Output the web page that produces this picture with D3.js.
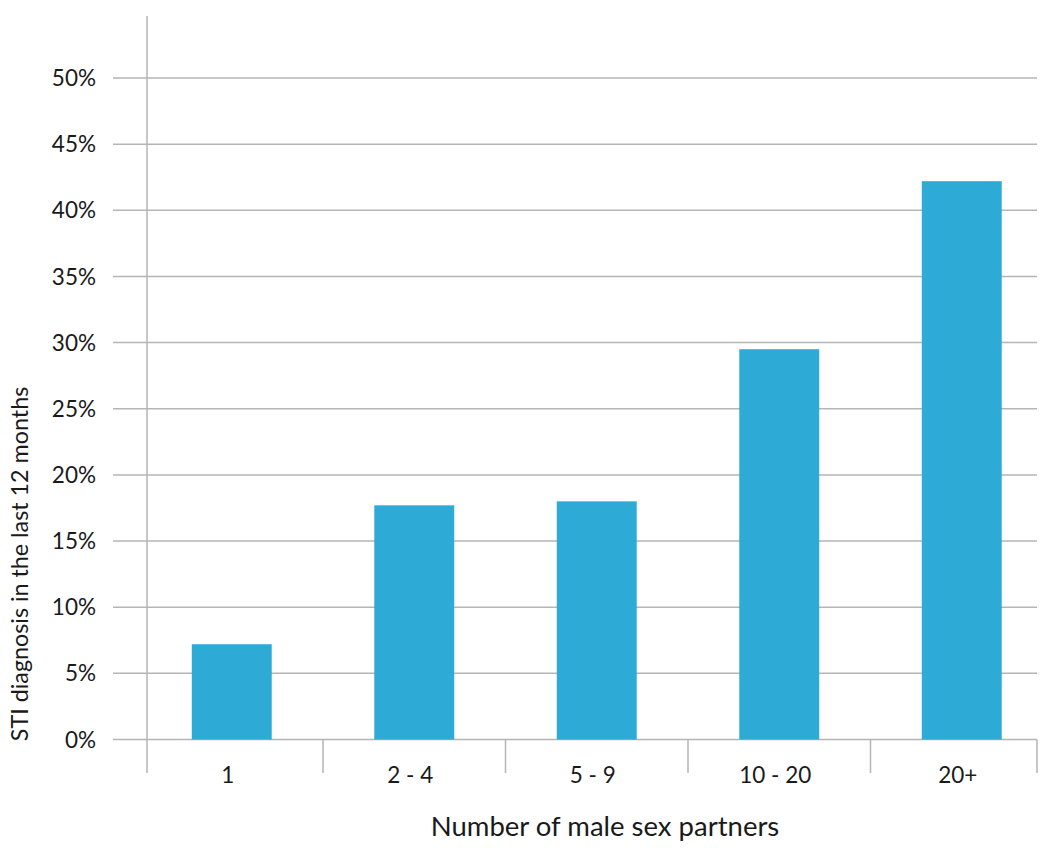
<!DOCTYPE html>
<html><head><meta charset="utf-8">
<script src="https://cdn.jsdelivr.net/npm/d3@7"></script>
<style>body{margin:0;background:#fff}text{font-family:Lato,sans-serif;fill:#1a1a1a}</style>
</head><body><svg id="c" width="1048" height="848"></svg>
<script>
const categories = ["1", "2 - 4", "5 - 9", "10 - 20", "20+"];
const values = [7.2, 17.7, 18.0, 29.5, 42.2];
const yTicks = [0, 5, 10, 15, 20, 25, 30, 35, 40, 45, 50];
const xTitle = "Number of male sex partners";
const yTitle = "STI diagnosis in the last 12 months";

const svg = d3.select("#c");
const y = d3.scaleLinear().domain([0, 50]).range([739.5, 78]);
const x = d3.scaleBand().domain(categories).range([140.5, 1053]).paddingInner(0).paddingOuter(0);
const axisX = 147, gridL = 113, gridR = 1037, yTop = 16, yBot = 773;
const barW = x.bandwidth() * 0.438;
const gridColor = "#b5b5b5";

svg.append("g").selectAll("line").data(yTicks).join("line")
  .attr("x1", gridL).attr("x2", gridR)
  .attr("y1", d => y(d)).attr("y2", d => y(d))
  .attr("stroke", gridColor).attr("stroke-width", 1.5);

svg.append("g").selectAll("text").data(yTicks).join("text")
  .attr("x", 96).attr("y", d => y(d)).attr("dy", "0.36em")
  .attr("text-anchor", "end").attr("font-size", 22.5).text(d => d + "%");

svg.append("g").selectAll("rect").data(values).join("rect")
  .attr("x", (d, i) => x(categories[i]) + x.bandwidth() / 2 - barW / 2)
  .attr("width", barW)
  .attr("y", d => y(d)).attr("height", d => y(0) - y(d))
  .attr("fill", "#2eaad7");

svg.append("line").attr("x1", axisX).attr("x2", axisX).attr("y1", yTop).attr("y2", yBot)
  .attr("stroke", gridColor).attr("stroke-width", 1.5);
const bounds = categories.slice(1).map(c => x(c)).concat([gridR]);
svg.append("g").selectAll("line").data(bounds).join("line")
  .attr("x1", d => d).attr("x2", d => d).attr("y1", y(0)).attr("y2", yBot)
  .attr("stroke", gridColor).attr("stroke-width", 1.5);

svg.append("g").selectAll("text").data(categories).join("text")
  .attr("x", d => x(d) + x.bandwidth() / 2 - 4).attr("y", 783)
  .attr("text-anchor", "middle").attr("font-size", 22.5).text(d => d);

svg.append("text").attr("x", 605).attr("y", 836).attr("text-anchor", "middle")
  .attr("font-size", 27.5).text(xTitle);
svg.append("text").attr("transform", "translate(28,564) rotate(-90)")
  .attr("text-anchor", "middle").attr("font-size", 23.3).text(yTitle);
</script></body></html>
